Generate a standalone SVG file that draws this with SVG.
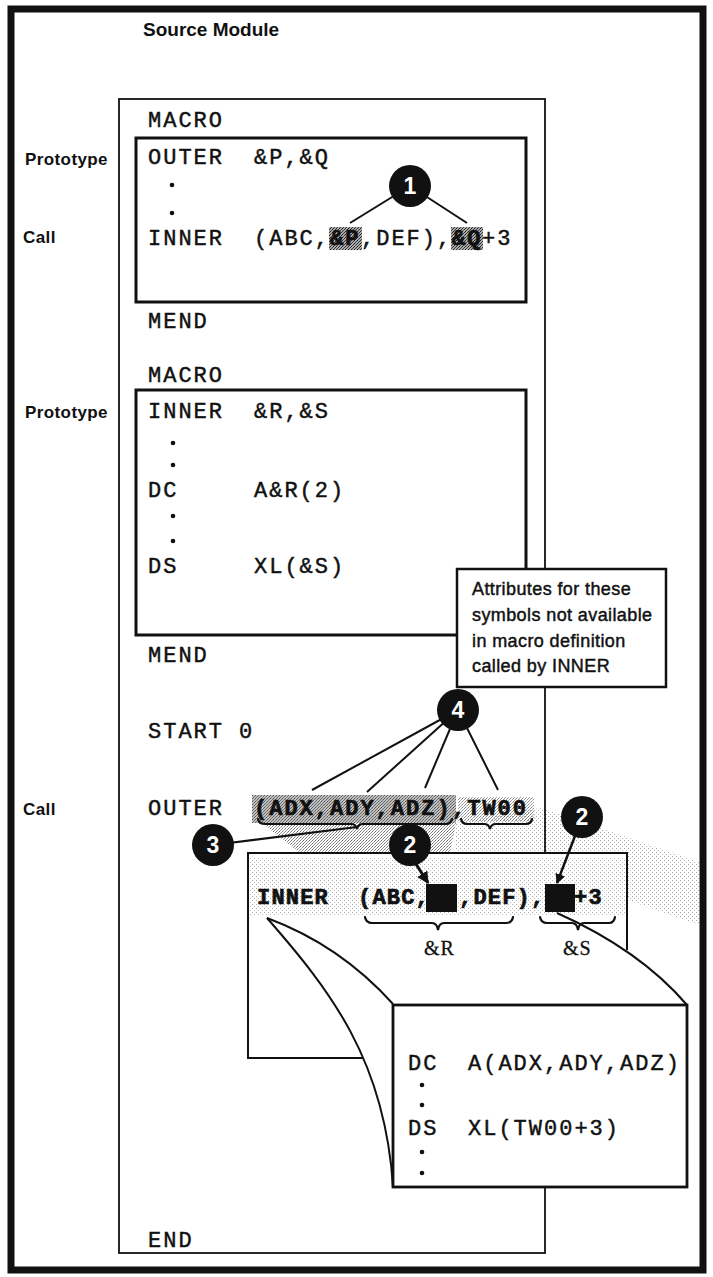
<svg xmlns="http://www.w3.org/2000/svg" width="713" height="1277" viewBox="0 0 713 1277">
<style>
.c{font-family:"Liberation Mono","Courier New",monospace;font-size:22px;letter-spacing:2px;fill:#111;stroke:#111;stroke-width:0.45}
.cb{font-weight:bold;stroke-width:0.7}
.ci{letter-spacing:1.2px}
.lbl{font-family:"Liberation Sans",Arial,sans-serif;font-weight:bold;font-size:17px;letter-spacing:0.4px;fill:#111}
.note{font-family:"Liberation Sans",Arial,sans-serif;font-size:18px;letter-spacing:0.4px;fill:#111;stroke:#111;stroke-width:0.45}
.sub{font-family:"Liberation Serif","Times New Roman",serif;font-size:20px;letter-spacing:1px;fill:#111;stroke:#111;stroke-width:0.3}
.num{font-family:"Liberation Sans",Arial,sans-serif;font-weight:bold;font-size:23px;fill:#fff;text-anchor:middle}
.thin{fill:none;stroke:#111;stroke-width:1.8}
.box{fill:#fff;stroke:#111;stroke-width:3}
.ln{fill:none;stroke:#111;stroke-width:2}
.brace{fill:none;stroke:#111;stroke-width:2.2;stroke-linecap:round}
.dot{fill:#111}
.circ{fill:#111}
</style>
<defs>
<pattern id="st" width="4" height="4" patternUnits="userSpaceOnUse">
<rect x="0" y="0" width="1" height="1" fill="#444"/>
<rect x="2" y="2" width="1" height="1" fill="#666"/>
</pattern>
<pattern id="stM" width="3" height="3" patternUnits="userSpaceOnUse">
<rect x="0" y="0" width="1" height="1" fill="#333"/>
<rect x="2" y="1" width="1" height="1" fill="#555"/>
<rect x="1" y="2" width="1" height="1" fill="#777"/>
</pattern>
<pattern id="stD" width="3" height="3" patternUnits="userSpaceOnUse">
<rect width="3" height="3" fill="#aaa"/>
<rect x="0" y="0" width="1" height="1" fill="#222"/>
<rect x="2" y="1" width="1" height="1" fill="#333"/>
<rect x="1" y="2" width="1" height="1" fill="#444"/>
</pattern>
<marker id="ah" viewBox="0 0 10 10" refX="9" refY="5" markerWidth="4" markerHeight="4" orient="auto">
<path d="M0,0 L10,5 L0,10 z" fill="#111"/>
</marker>
</defs>

<rect x="0" y="0" width="713" height="1277" fill="#fff"/>

<!-- outer frame -->
<g id="frame">
<rect x="11" y="9" width="692" height="1261" fill="none" stroke="#111" stroke-width="7"/>
<text x="143" y="36" font-family="Liberation Sans, Arial, sans-serif" font-weight="bold" font-size="19" fill="#111">Source Module</text>
</g>

<!-- left labels -->
<g id="labels">
<text class="lbl" x="25" y="165">Prototype</text>
<text class="lbl" x="23" y="243">Call</text>
<text class="lbl" x="25" y="418">Prototype</text>
<text class="lbl" x="23" y="815">Call</text>
</g>

<!-- source module column -->
<g id="source-module">
<rect class="thin" x="119" y="99" width="426" height="1154"/>
<text class="c" x="148" y="127">MACRO</text>
<text class="c" x="148" y="328">MEND</text>
<text class="c" x="148" y="382">MACRO</text>
<text class="c" x="148" y="662">MEND</text>
<text class="c" x="148" y="738">START</text>
<text class="c" x="239" y="738">0</text>
<text class="c" x="148" y="1247">END</text>
</g>

<!-- OUTER macro definition -->
<g id="outer-definition">
<rect class="box" x="136" y="138" width="390" height="164"/>
<text class="c" x="148" y="164">OUTER</text>
<text class="c" x="254" y="164">&amp;P,&amp;Q</text>
<circle class="dot" cx="172" cy="185" r="2.3"/>
<circle class="dot" cx="172" cy="213" r="2.3"/>
<rect x="329" y="227" width="33" height="23" fill="url(#stD)"/>
<rect x="451" y="227" width="32" height="23" fill="url(#stD)"/>
<text class="c" x="148" y="245">INNER</text>
<text class="c" x="254" y="245">(ABC,</text>
<text class="c cb" x="330" y="245">&amp;P</text>
<text class="c" x="361" y="245">,DEF),</text>
<text class="c cb" x="452" y="245">&amp;Q</text>
<text class="c" x="482" y="245">+3</text>
</g>

<!-- INNER macro definition -->
<g id="inner-definition">
<rect class="box" x="136" y="390" width="390" height="245"/>
<text class="c" x="148" y="418">INNER</text>
<text class="c" x="254" y="418">&amp;R,&amp;S</text>
<circle class="dot" cx="173" cy="443" r="2.3"/>
<circle class="dot" cx="173" cy="465" r="2.3"/>
<text class="c" x="148" y="497">DC</text>
<text class="c" x="254" y="497">A&amp;R(2)</text>
<circle class="dot" cx="173" cy="516" r="2.3"/>
<circle class="dot" cx="173" cy="541" r="2.3"/>
<text class="c" x="148" y="573">DS</text>
<text class="c" x="254" y="573">XL(&amp;S)</text>
</g>

<!-- note box -->
<g id="note">
<rect x="457" y="569" width="209" height="118" fill="#fff" stroke="#111" stroke-width="2.5"/>
<text class="note" x="472" y="595">Attributes for these</text>
<text class="note" x="472" y="621">symbols not available</text>
<text class="note" x="472" y="647">in macro definition</text>
<text class="note" x="472" y="672">called by INNER</text>
</g>

<!-- stipple shading (projection of the call) -->
<g id="shading">
<rect x="252" y="795" width="204" height="28" fill="url(#stD)" opacity="0.75"/>
<rect x="458" y="797" width="76" height="25" fill="url(#stM)" opacity="0.6"/>
<polygon points="262,823 456,823 450,853 300,853" fill="url(#stM)" opacity="0.7"/>
<polygon points="456,823 540,808 600,828 700,862 700,925 628,900 628,853 456,853" fill="url(#st)" opacity="0.5"/>
</g>

<!-- OUTER call -->
<g id="outer-call">
<text class="c" x="148" y="815">OUTER</text>
<text class="c cb" x="254" y="815">(ADX,ADY,ADZ)</text>
<text class="c cb" x="452" y="815">,TW00</text>
<path class="brace" d="M258,819 Q259,824 265,824 L351,824 Q356,824 357,829 Q358,824 363,824 L446,824 Q451,824 452,819"/>
<path class="brace" d="M461,819 Q462,824 467,824 L484,824 Q489,824 490,829 Q491,824 496,824 L526,824 Q531,824 532,819"/>
</g>

<!-- expanded INNER call -->
<g id="inner-call">
<rect x="248" y="853" width="379" height="205" fill="#fff"/>
<rect x="250" y="858" width="375" height="58" fill="url(#st)" opacity="0.45"/>
<path class="ln" d="M627,950 V853 H248 V1058 H400"/>
<text class="c cb ci" x="257" y="904">INNER</text>
<text class="c cb ci" x="358" y="904">(ABC,</text>
<text class="c cb ci" x="459" y="904">,DEF),</text>
<text class="c cb ci" x="574" y="904">+3</text>
<rect x="426" y="884" width="31" height="28" fill="#111"/>
<rect x="545" y="884" width="30" height="28" fill="#111"/>
<path class="brace" d="M365,917 Q366,923 372,923 L432,923 Q437,923 438,930 Q439,923 444,923 L506,923 Q512,923 513,917"/>
<path class="brace" d="M540,917 Q541,923 547,923 L572,923 Q577,923 578,930 Q579,923 584,923 L609,923 Q614,923 615,917"/>
<text class="sub" x="424" y="955">&amp;R</text>
<text class="sub" x="563" y="955">&amp;S</text>
</g>

<!-- magnified expansion of INNER -->
<g id="expansion">
<path d="M267,918 Q340,945 393,1004 L393,1187 C385,1060 330,990 267,918 Z" fill="#fff"/>
<path class="ln" d="M267,918 Q340,945 393,1004"/>
<path class="ln" d="M267,918 C330,990 385,1060 393,1187"/>
<path class="ln" d="M557,913 Q640,950 687,1005"/>
<rect x="393" y="1005" width="294" height="182" fill="#fff" stroke="#111" stroke-width="2.8"/>
<text class="c" x="408" y="1070">DC</text>
<text class="c" x="468" y="1070">A(ADX,ADY,ADZ)</text>
<circle class="dot" cx="422" cy="1085" r="2.3"/>
<circle class="dot" cx="422" cy="1105" r="2.3"/>
<text class="c" x="408" y="1135">DS</text>
<text class="c" x="468" y="1135">XL(TW00+3)</text>
<circle class="dot" cx="422" cy="1152" r="2.3"/>
<circle class="dot" cx="422" cy="1173" r="2.3"/>
</g>

<!-- connectors -->
<g id="connectors" class="ln">
<line x1="410" y1="186" x2="350" y2="223"/>
<line x1="410" y1="186" x2="467" y2="223"/>
<line x1="458" y1="710" x2="312" y2="790"/>
<line x1="458" y1="710" x2="367" y2="792"/>
<line x1="458" y1="710" x2="425" y2="788"/>
<line x1="458" y1="710" x2="498" y2="790"/>
<line x1="213" y1="845" x2="357" y2="827"/>
<line x1="416" y1="864" x2="428" y2="883" stroke-width="3" marker-end="url(#ah)"/>
<line x1="575" y1="836" x2="557" y2="883" stroke-width="2.5" marker-end="url(#ah)"/>
</g>

<!-- numbered markers -->
<g id="marker-1"><circle class="circ" cx="410" cy="186" r="21"/><text class="num" x="410" y="194">1</text></g>
<g id="marker-4"><circle class="circ" cx="458" cy="710" r="21"/><text class="num" x="458" y="718">4</text></g>
<g id="marker-3"><circle class="circ" cx="213" cy="845" r="21"/><text class="num" x="213" y="853">3</text></g>
<g id="marker-2a"><circle class="circ" cx="410" cy="845" r="21"/><text class="num" x="410" y="853">2</text></g>
<g id="marker-2b"><circle class="circ" cx="582" cy="817" r="21"/><text class="num" x="582" y="825">2</text></g>
</svg>
